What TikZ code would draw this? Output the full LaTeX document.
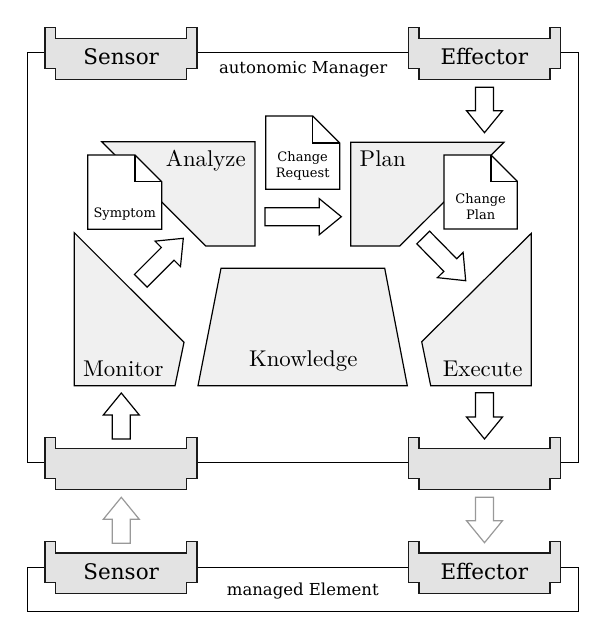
\documentclass[tikz,border=0pt]{standalone}
\usepackage{fontspec}
\newfontfamily\dvs{DejaVu Serif}
\newfontfamily\lmten{lmroman10-regular.otf}
\usetikzlibrary{calc}
\definecolor{mapefill}{HTML}{F0F0F0}
\definecolor{ifacefill}{HTML}{E3E3E3}
\definecolor{ifaceline}{HTML}{1A1A1A}
\definecolor{grayarrow}{HTML}{999999}
\tikzset{
  mape/.style={draw=black, fill=mapefill, line width=1.2pt, line join=miter},
  ifaceshape/.style={draw=ifaceline, fill=ifacefill, line width=1.5pt, line join=miter},
  docshape/.style={draw=black, fill=white, line width=1.3pt, line join=miter},
  barrow/.style={draw=black, fill=white, line width=1.2pt, line join=miter},
  garrow/.style={barrow, draw=grayarrow},
  framebox/.style={draw=black, line width=1pt},
  biglbl/.style={font=\lmten\fontsize{22.8}{27}\selectfont, inner sep=0pt, anchor=base},
  ifacelbl/.style={font=\dvs\fontsize{21.5}{26}\selectfont, inner sep=0pt, anchor=base},
  framelbl/.style={font=\dvs\fontsize{16.5}{20}\selectfont, inner sep=0pt, anchor=base},
  doclbl/.style={font=\dvs\fontsize{13}{16}\selectfont, inner sep=0pt, align=center},
}
% block arrow from tail coordinate #2 to tip coordinate #3
\newcommand\blockarr[3][]{%
  \coordinate (hb) at ($(#3)!22pt!(#2)$);
  \draw[barrow,#1] ($(#2)!9pt!90:(#3)$) -- ($(hb)!9pt!-90:(#2)$) -- ($(hb)!18pt!-90:(#2)$)
    -- (#3) -- ($(hb)!18pt!90:(#2)$) -- ($(hb)!9pt!90:(#2)$) -- ($(#2)!9pt!-90:(#3)$) -- cycle;
}
% interface: #1 name, #2 centre x, #3 top y, #4 text
\newcommand\ifc[4]{%
  \draw[ifaceshape] (#2-76,#3) -- (#2-76,#3+41) -- (#2-65.5,#3+41) -- (#2-65.5,#3+52)
    -- (#2+65.5,#3+52) -- (#2+65.5,#3+41) -- (#2+76,#3+41) -- (#2+76,#3)
    -- (#2+65.5,#3) -- (#2+65.5,#3+11.3) -- (#2-65.5,#3+11.3) -- (#2-65.5,#3) -- cycle;
  \node[ifacelbl] (#1) at (#2,#3+37.5) {#4};
}
% document: x1,y1,x2,y2,fold
\newcommand\docu[5]{%
  \draw[docshape] (#1,#2) -- (#3-#5,#2) -- (#3,#2+#5) -- (#3,#4) -- (#1,#4) -- cycle;
  \draw[docshape, fill=none] (#3-#5,#2) -- (#3-#5,#2+#5) -- (#3,#2+#5);
}
\begin{document}
\begin{tikzpicture}[x=1pt,y=-1pt]
\useasboundingbox (0,0) rectangle (606,639);
% frames
\draw[framebox] (27.3,52.3) rectangle (578.7,462.3);
\draw[framebox] (27.3,567.3) rectangle (578.7,611);
\node[framelbl] (am) at (303.2,73.3) {autonomic Manager};
\node[framelbl] (me) at (302.8,595) {managed Element};
% interfaces
\ifc{sensTop}{121.2}{27.3}{Sensor}
\ifc{effTop}{484.3}{27.3}{Effector}
\ifc{ifL}{121.2}{437.3}{}
\ifc{ifR}{484.3}{437.3}{}
\ifc{sensBot}{121.2}{541.7}{Sensor}
\ifc{effBot}{484.3}{541.7}{Effector}
% MAPE shapes
\draw[mape] (101.7,141.7) -- (255,141.7) -- (255,246) -- (205.7,246) -- cycle;
\node[biglbl] (analyze) at (205.8,166.7) {Analyze};
\draw[mape] (350.7,142.3) -- (504,142.3) -- (399.7,246) -- (350.7,246) -- cycle;
\node[biglbl] (plan) at (382.7,166.7) {Plan};
\draw[mape] (74.3,232.7) -- (184,342.3) -- (175,385.7) -- (74.3,385.7) -- cycle;
\node[biglbl] (monitor) at (123.3,376.7) {Monitor};
\draw[mape] (221,268.3) -- (384.7,268.3) -- (407.3,385.7) -- (198,385.7) -- cycle;
\node[biglbl] (knowledge) at (303.2,366.7) {Knowledge};
\draw[mape] (531.3,233.3) -- (531.3,385.7) -- (430.7,385.7) -- (421.7,341.7) -- cycle;
\node[biglbl] (execute) at (482.7,376.7) {Execute};
% documents
\docu{87.7}{155}{161.7}{229.3}{26.7}
\node[doclbl] (symptom) at (124.7,214.5) {Symptom};
\docu{265.7}{116}{339.7}{189.3}{27}
\node[doclbl] (chreq) at (302.7,165.5) {Change\\Request};
\docu{444}{155}{517.3}{229}{26.3}
\node[doclbl] (chplan) at (480.7,206.5) {Change\\Plan};
% arrow end points
\coordinate (effTopOut) at (484.5,87.3);
\coordinate (planIn) at (484.5,132.7);
\coordinate (execOut) at (484.5,392.7);
\coordinate (ifRIn) at (484.5,439);
\coordinate (ifLOut) at (121.3,439);
\coordinate (monIn) at (121.3,393);
\coordinate (sensBotOut) at (121.3,543.3);
\coordinate (ifLIn) at (121.3,497.3);
\coordinate (ifROut) at (484.5,497.3);
\coordinate (effBotIn) at (484.5,542.7);
\coordinate (anaOut) at (265,216.7);
\coordinate (planIn2) at (341.3,216.7);
\coordinate (monOut) at (140.8,280.8);
\coordinate (anaIn) at (183.3,238.3);
\coordinate (planOut) at (423.2,237.5);
\coordinate (execIn) at (465.7,280.7);
% block arrows
\blockarr{effTopOut}{planIn}
\blockarr{execOut}{ifRIn}
\blockarr{ifLOut}{monIn}
\blockarr[garrow]{sensBotOut}{ifLIn}
\blockarr[garrow]{ifROut}{effBotIn}
\blockarr{anaOut}{planIn2}
\blockarr{monOut}{anaIn}
\blockarr{planOut}{execIn}
\end{tikzpicture}
\end{document}
